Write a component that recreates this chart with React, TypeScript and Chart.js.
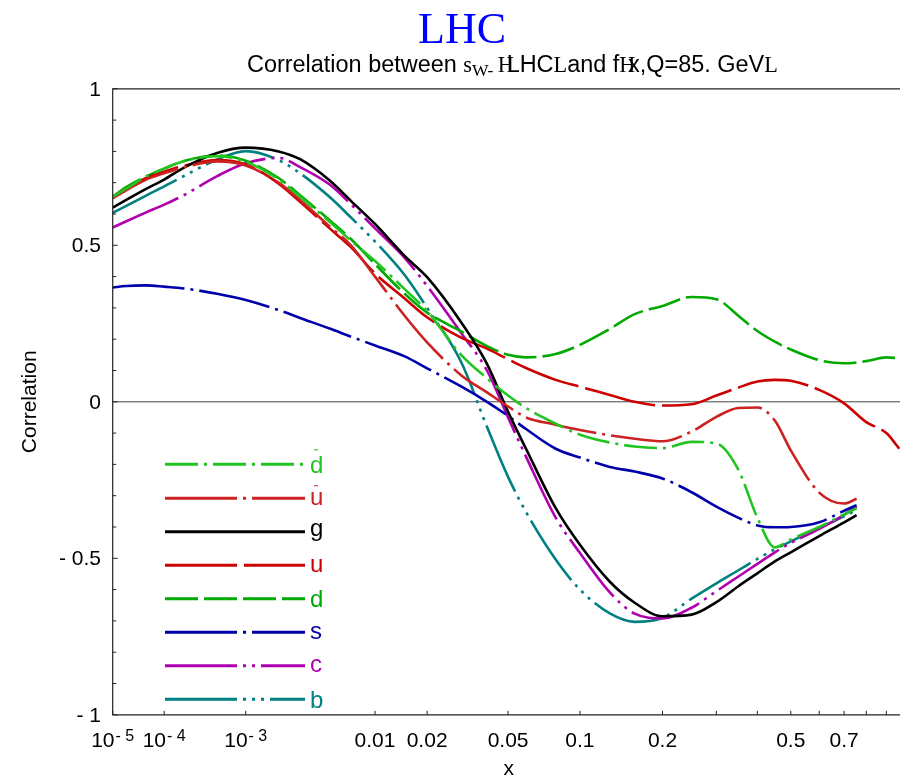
import React, { useEffect, useRef } from "react";
import { Chart, LinearScale, registerables } from "chart.js";

// Momentum fractions shared by all sea/gluon curves (they stop near x = 0.75)
const X_MAIN = [
  1e-5, 2e-5, 5e-5, 1e-4, 2e-4, 5e-4, 1e-3, 2e-3, 3e-3, 5e-3, 7e-3,
  0.01, 0.015, 0.02, 0.03, 0.04, 0.05, 0.06, 0.08,
  0.1, 0.13, 0.16, 0.2, 0.25, 0.3, 0.35, 0.4, 0.45, 0.5, 0.6, 0.7, 0.755,
];
// Valence curves run out to the right edge
const X_FULL = [
  1e-5, 2e-5, 5e-5, 1e-4, 2e-4, 5e-4, 1e-3, 2e-3, 3e-3, 5e-3, 7e-3,
  0.01, 0.015, 0.02, 0.03, 0.04, 0.05, 0.06, 0.08,
  0.1, 0.13, 0.16, 0.2, 0.25, 0.3, 0.35, 0.4, 0.45, 0.5, 0.6, 0.7, 0.8, 0.9, 0.97,
];

const DBAR = [0.655, 0.68, 0.72, 0.745, 0.77, 0.785, 0.767, 0.71, 0.655, 0.575, 0.515, 0.45, 0.36, 0.29, 0.15, 0.075, 0.02, -0.02, -0.07, -0.105, -0.13, -0.143, -0.148, -0.128, -0.133, -0.215, -0.37, -0.465, -0.44, -0.40, -0.36, -0.34];
const UBAR = [0.65, 0.675, 0.71, 0.73, 0.75, 0.768, 0.755, 0.70, 0.645, 0.56, 0.50, 0.40, 0.275, 0.19, 0.085, 0.03, -0.015, -0.05, -0.073, -0.09, -0.107, -0.118, -0.126, -0.095, -0.048, -0.02, -0.018, -0.06, -0.155, -0.29, -0.325, -0.31];
const GLUON = [0.62, 0.644, 0.68, 0.71, 0.75, 0.795, 0.812, 0.80, 0.775, 0.707, 0.642, 0.568, 0.466, 0.398, 0.254, 0.121, -0.032, -0.15, -0.34, -0.457, -0.575, -0.642, -0.685, -0.68, -0.64, -0.59, -0.548, -0.51, -0.481, -0.429, -0.385, -0.362];
const UP = [0.655, 0.68, 0.715, 0.735, 0.755, 0.772, 0.758, 0.697, 0.639, 0.554, 0.494, 0.41, 0.33, 0.27, 0.205, 0.17, 0.136, 0.108, 0.07, 0.048, 0.022, 0.0, -0.012, -0.008, 0.02, 0.045, 0.065, 0.07, 0.067, 0.038, -0.005, -0.065, -0.10, -0.15];
const DOWN = [0.655, 0.685, 0.72, 0.745, 0.77, 0.787, 0.77, 0.715, 0.66, 0.58, 0.52, 0.44, 0.345, 0.285, 0.225, 0.178, 0.15, 0.142, 0.153, 0.182, 0.233, 0.28, 0.306, 0.335, 0.328, 0.276, 0.226, 0.192, 0.167, 0.133, 0.123, 0.13, 0.142, 0.139];
const STRANGE = [0.365, 0.37, 0.372, 0.368, 0.362, 0.345, 0.325, 0.293, 0.268, 0.234, 0.208, 0.18, 0.145, 0.107, 0.049, 0.0, -0.045, -0.087, -0.15, -0.178, -0.208, -0.223, -0.245, -0.289, -0.335, -0.37, -0.395, -0.401, -0.40, -0.385, -0.348, -0.33];
const CHARM = [0.557, 0.576, 0.605, 0.63, 0.662, 0.721, 0.762, 0.779, 0.75, 0.694, 0.631, 0.554, 0.46, 0.37, 0.22, 0.10, -0.05, -0.175, -0.37, -0.483, -0.609, -0.677, -0.692, -0.658, -0.605, -0.559, -0.518, -0.481, -0.451, -0.406, -0.361, -0.335];
const BOTTOM = [0.604, 0.625, 0.659, 0.688, 0.723, 0.774, 0.801, 0.772, 0.73, 0.654, 0.589, 0.512, 0.405, 0.30, 0.127, -0.08, -0.24, -0.352, -0.504, -0.60, -0.676, -0.703, -0.69, -0.629, -0.58, -0.539, -0.502, -0.471, -0.446, -0.403, -0.366, -0.346];

// Axis ticks
const X_TICK_VALUES = [1e-5, 1e-4, 1e-3, 0.01, 0.02, 0.05, 0.1, 0.2, 0.5, 0.7];
const X_TICK_LABELS = ["10^- 5", "10^- 4", "10^- 3", "0.01", "0.02", "0.05", "0.1", "0.2", "0.5", "0.7"];
const X_MINOR_TICKS = [0.3, 0.4, 0.6, 0.8, 0.9];
const Y_TICK_VALUES = [1, 0.5, 0, -0.5, -1];
const Y_TICK_LABELS = ["1", "0.5", "0", "- 0.5", "- 1"];

const X_EXPONENT = 0.2;

// x axis spaced as x^0.2
class PowerScale extends LinearScale {
  static id = "power";
  getPixelForValue(value: number) {
    const lo = Math.pow(this.min, X_EXPONENT);
    const hi = Math.pow(this.max, X_EXPONENT);
    return this.getPixelForDecimal((Math.pow(value, X_EXPONENT) - lo) / (hi - lo));
  }
  getValueForPixel(pixel: number) {
    const lo = Math.pow(this.min, X_EXPONENT);
    const hi = Math.pow(this.max, X_EXPONENT);
    const d = this.getDecimalForPixel(pixel);
    return Math.pow(lo + d * (hi - lo), 1 / X_EXPONENT);
  }
}

Chart.register(...registerables, PowerScale);

type Series = {
  name: string;
  bar: boolean;
  xs: number[];
  ys: number[];
  color: string;
  dash: number[];
};

const SERIES: Series[] = [
  { name: "d", bar: true, xs: X_MAIN, ys: DBAR, color: "#22c422", dash: [33, 6, 3, 6] },
  { name: "u", bar: true, xs: X_MAIN, ys: UBAR, color: "#cc2222", dash: [72, 6, 3, 6] },
  { name: "g", bar: false, xs: X_MAIN, ys: GLUON, color: "#000000", dash: [] },
  { name: "u", bar: false, xs: X_FULL, ys: UP, color: "#cc0000", dash: [72, 7] },
  { name: "d", bar: false, xs: X_FULL, ys: DOWN, color: "#00aa00", dash: [33, 6] },
  { name: "s", bar: false, xs: X_MAIN, ys: STRANGE, color: "#0000aa", dash: [72, 6, 3, 6] },
  { name: "c", bar: false, xs: X_MAIN, ys: CHARM, color: "#b000b0", dash: [72, 6, 3, 6, 3, 6] },
  { name: "b", bar: false, xs: X_MAIN, ys: BOTTOM, color: "#008080", dash: [72, 6, 3, 6, 3, 6, 3, 6] },
];

const LEGEND_ROWS = [464.3, 498.3, 531.7, 565.3, 598.7, 632.3, 665.7, 699.3];

const SANS = "'Liberation Sans', Arial, sans-serif";
const SERIF = "'Liberation Serif', 'Times New Roman', serif";

// Subtitle runs: text, family, relative size, baseline shift, advance factor
const SUBTITLE: [string, string, number, number, number][] = [
  ["Correlation between ", SANS, 1, 0, 1],
  ["s", SERIF, 0.95, 0, 1],
  ["W- ", SERIF, 0.75, 0.15, 1],
  ["H", SERIF, 0.95, 0, 0.55],
  ["LHC", SANS, 1, 0, 1],
  ["L", SERIF, 0.95, 0, 1],
  ["and f", SANS, 1, 0, 1],
  ["H", SERIF, 0.95, 0, 0.55],
  ["x,Q=85. GeV", SANS, 1, 0, 1],
  ["L", SERIF, 0.95, 0, 1],
];

const decorations = {
  id: "decorations",
  beforeDatasetsDraw(chart: any) {
    const { ctx, chartArea } = chart;
    const y0 = chart.scales.y.getPixelForValue(0);
    ctx.save();
    ctx.strokeStyle = "#444";
    ctx.lineWidth = 1;
    ctx.beginPath();
    ctx.moveTo(chartArea.left, y0);
    ctx.lineTo(chartArea.right, y0);
    ctx.stroke();
    ctx.restore();
  },
  afterDatasetsDraw(chart: any) {
    const { ctx, chartArea } = chart;
    const xs = chart.scales.x;
    const ys = chart.scales.y;
    const { left, right, top, bottom } = chartArea;
    ctx.save();

    // frame
    ctx.strokeStyle = "#222";
    ctx.lineWidth = 1.2;
    ctx.beginPath();
    ctx.moveTo(right, top);
    ctx.lineTo(left, top);
    ctx.lineTo(left, bottom);
    ctx.lineTo(right, bottom);
    ctx.stroke();

    // inner ticks
    ctx.lineWidth = 1;
    ctx.beginPath();
    [...X_TICK_VALUES, ...X_MINOR_TICKS].forEach((v) => {
      const px = xs.getPixelForValue(v);
      ctx.moveTo(px, bottom);
      ctx.lineTo(px, bottom - 4);
    });
    for (let i = -10; i <= 10; i++) {
      const py = ys.getPixelForValue(i / 10);
      ctx.moveTo(left, py);
      ctx.lineTo(left + (i % 5 === 0 ? 5 : 3.5), py);
    }
    ctx.stroke();

    // x tick labels (with superscript exponents)
    ctx.fillStyle = "#000";
    ctx.textBaseline = "alphabetic";
    const baseY = 747;
    X_TICK_VALUES.forEach((v, i) => {
      const px = xs.getPixelForValue(v);
      const parts = X_TICK_LABELS[i].split("^");
      ctx.font = `21px ${SANS}`;
      const w0 = ctx.measureText(parts[0]).width;
      let w1 = 0;
      if (parts[1]) {
        ctx.font = `16px ${SANS}`;
        w1 = ctx.measureText(parts[1]).width + 1;
      }
      const start = px - (w0 + w1) / 2;
      ctx.font = `21px ${SANS}`;
      ctx.textAlign = "left";
      ctx.fillText(parts[0], start, baseY);
      if (parts[1]) {
        ctx.font = `16px ${SANS}`;
        ctx.fillText(parts[1], start + w0 + 1, baseY - 6);
      }
    });

    // y tick labels
    ctx.font = `21px ${SANS}`;
    ctx.textAlign = "right";
    ctx.textBaseline = "middle";
    Y_TICK_VALUES.forEach((v, i) => {
      ctx.fillText(Y_TICK_LABELS[i], 101, ys.getPixelForValue(v) + 1);
    });

    // axis titles
    ctx.textAlign = "center";
    ctx.textBaseline = "alphabetic";
    ctx.fillText("x", (left + xs.getPixelForValue(1)) / 2, 775);
    ctx.save();
    ctx.translate(36, ys.getPixelForValue(0));
    ctx.rotate(-Math.PI / 2);
    ctx.fillText("Correlation", 0, 0);
    ctx.restore();

    // legend
    SERIES.forEach((s, i) => {
      const y = LEGEND_ROWS[i];
      ctx.strokeStyle = s.color;
      ctx.lineWidth = 3;
      ctx.setLineDash(s.dash);
      ctx.beginPath();
      ctx.moveTo(165, y);
      ctx.lineTo(305, y);
      ctx.stroke();
      ctx.setLineDash([]);
      ctx.font = `24px ${SANS}`;
      ctx.fillStyle = s.color;
      ctx.textAlign = "left";
      const m = ctx.measureText(s.name);
      const asc = m.actualBoundingBoxAscent;
      const desc = m.actualBoundingBoxDescent;
      const base = y + (asc - desc) / 2;
      ctx.fillText(s.name, 310, base);
      if (s.bar) {
        ctx.lineWidth = 1;
        ctx.beginPath();
        ctx.moveTo(314, base - asc - 6);
        ctx.lineTo(318, base - asc - 6);
        ctx.stroke();
      }
    });

    // main title
    ctx.fillStyle = "#0000ff";
    ctx.font = `44px ${SERIF}`;
    ctx.textAlign = "center";
    ctx.fillText("LHC", 462, 43);

    // subtitle: fit runs between x = 247 and x = 778
    const startX = 247;
    const endX = 778;
    const runWidth = (size: number) =>
      SUBTITLE.reduce((acc, [t, fam, rel, , adv]) => {
        ctx.font = `${size * rel}px ${fam}`;
        return acc + ctx.measureText(t).width * adv;
      }, 0);
    const size = (20 * (endX - startX)) / runWidth(20);
    ctx.fillStyle = "#000";
    ctx.textAlign = "left";
    let cx = startX;
    SUBTITLE.forEach(([t, fam, rel, shift, adv]) => {
      ctx.font = `${size * rel}px ${fam}`;
      ctx.fillText(t, cx, 72 + shift * size);
      cx += ctx.measureText(t).width * adv;
    });

    ctx.restore();
  },
};

export default function App() {
  const canvasRef = useRef<HTMLCanvasElement | null>(null);

  useEffect(() => {
    const canvas = canvasRef.current;
    if (!canvas) return;
    const chart = new Chart(canvas, {
      type: "line",
      data: {
        datasets: SERIES.map((s) => ({
          label: s.name,
          data: s.xs.map((x, i) => ({ x, y: s.ys[i] })),
          borderColor: s.color,
          borderWidth: 2.6,
          borderDash: s.dash,
          borderCapStyle: "butt",
          pointRadius: 0,
          fill: false,
          cubicInterpolationMode: "monotone",
        })),
      },
      options: {
        animation: false,
        responsive: false,
        devicePixelRatio: 1,
        events: [],
        layout: { padding: { left: 112.7, top: 88.8, right: 0, bottom: 64.2 } },
        scales: {
          x: { type: "power" as any, min: 1e-5, max: 0.9736, display: false },
          y: { type: "linear", min: -1, max: 1, display: false },
        },
        plugins: {
          legend: { display: false },
          title: { display: false },
          tooltip: { enabled: false },
        },
      },
      plugins: [decorations],
    });
    return () => chart.destroy();
  }, []);

  return (
    <div style={{ position: "fixed", left: 0, top: 0, width: 900, height: 779, background: "#fff" }}>
      <canvas ref={canvasRef} width={900} height={779} style={{ display: "block" }} />
    </div>
  );
}
